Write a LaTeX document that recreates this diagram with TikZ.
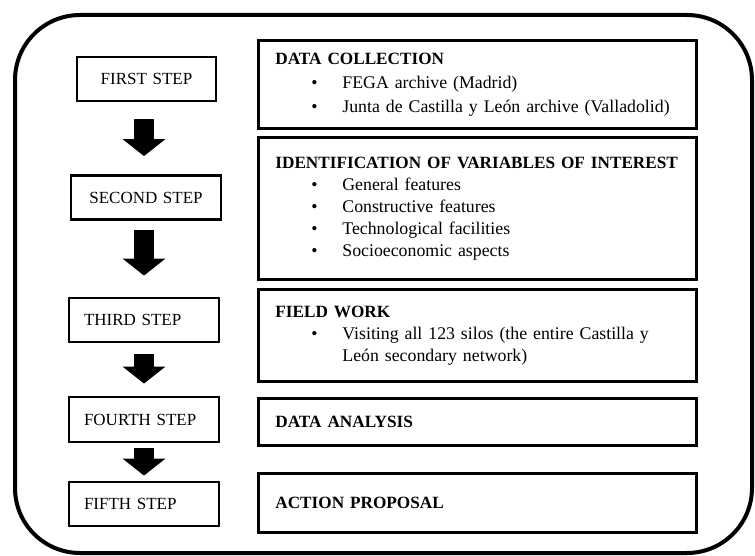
\documentclass[tikz,border=0pt]{standalone}
\usepackage{fontspec}
\setmainfont[WordSpace=0.7]{Liberation Serif}
\usetikzlibrary{arrows.meta}
\setlength\parindent{0pt}
\newcommand\stepfont{\fontsize{17}{18}\selectfont}
\newcommand\taskfont{\fontsize{17.8}{22}\selectfont}
\newcommand\head[1]{{\fontsize{17.2}{22}\selectfont\bfseries #1}}
% bullet line inside a task box, hanging under its own text
\newcommand\bitem[1]{\par\hangindent=67pt\hangafter=1\hspace*{36pt}\makebox[31pt][l]{\textbullet}#1\par}
\tikzset{
  frame/.style={line width=4pt,rounded corners=65pt},
  stepbox/.style={draw,line width=2.8pt,text width=120pt,inner xsep=15pt,inner ysep=0pt,minimum height=44pt,align=left,font=\stepfont},
  taskbox/.style={draw,line width=2.8pt,text width=404pt,inner xsep=17pt,inner ysep=0pt,align=left,anchor=north west,font=\taskfont},
  fatarrow/.style={line width=20pt,-{Triangle[length=17pt,width=42pt]}}
}
\begin{document}
\begin{tikzpicture}[x=1pt,y=-1pt]
\useasboundingbox (0,0) rectangle (755,556);
\draw[frame] (15,15) rectangle (752,553);
% steps on the left
\node[stepbox,text width=109pt,align=center] (s1) at (146.5,79) {FIRST STEP};
\node[stepbox,align=center] (s2) at (146,197.5) {SECOND STEP};
\node[stepbox] (s3) at (144,320) {THIRD STEP};
\node[stepbox,minimum height=45pt] (s4) at (144,419.5) {FOURTH STEP};
\node[stepbox] (s5) at (144,504) {FIFTH STEP};
\draw[fatarrow] ([xshift=-2.5pt,yshift=-17pt]s1.south) -- ([xshift=-2pt,yshift=18pt]s2.north);
\draw[fatarrow] ([xshift=-2pt,yshift=-9pt]s2.south) -- ([yshift=21pt]s3.north);
\draw[fatarrow] ([yshift=-11pt]s3.south) -- ([yshift=12pt]s4.north);
\draw[fatarrow] ([yshift=-5pt]s4.south) -- ([yshift=5pt]s5.north);
% what each step does
\node[taskbox,minimum height=88pt,font=\fontsize{17.8}{24}\selectfont] (t1) at (257,39) {\head{DATA COLLECTION}\bitem{FEGA archive (Madrid)}\bitem{Junta de Castilla y León archive (Valladolid)}};
\node[taskbox,minimum height=142pt] (t2) at (257,136) {\head{IDENTIFICATION OF VARIABLES OF INTEREST}\bitem{General features}\bitem{Constructive features}\bitem{Technological facilities}\bitem{Socioeconomic aspects}};
\node[taskbox,minimum height=92pt] (t3) at (257,288) {\head{FIELD WORK}\bitem{Visiting all 123 silos (the entire Castilla y\newline León secondary network)}};
\node[taskbox,minimum height=47pt] (t4) at (257,397) {\head{DATA ANALYSIS}};
\node[taskbox,minimum height=59pt] (t5) at (257,472) {\head{ACTION PROPOSAL}};
\end{tikzpicture}
\end{document}
